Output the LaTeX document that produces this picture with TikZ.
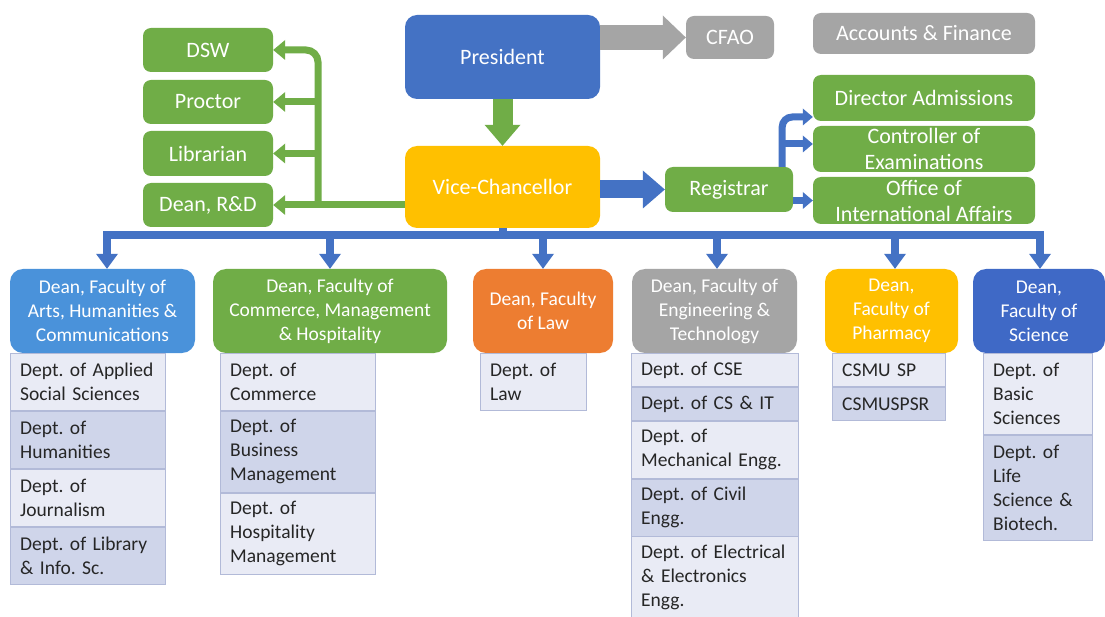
\documentclass[tikz,border=0pt]{standalone}
\usepackage{fontspec}
\setmainfont{Carlito}
\usetikzlibrary{arrows.meta,positioning}
\frenchspacing
\hyphenpenalty=10000
\exhyphenpenalty=10000

\definecolor{cgreen}{HTML}{70AD47}
\definecolor{cblue}{HTML}{4472C4}
\definecolor{cgold}{HTML}{FFC000}
\definecolor{cgrey}{HTML}{A5A5A5}
\definecolor{corange}{HTML}{ED7D31}
\definecolor{csky}{HTML}{4A92DA}
\definecolor{croyal}{HTML}{3F69C6}
\definecolor{rowlight}{HTML}{E9EBF5}
\definecolor{rowdark}{HTML}{CFD5EA}
\definecolor{rowline}{HTML}{B2BAD8}
\definecolor{rowtext}{HTML}{262626}

\tikzset{
  unit/.style={fill=#1, rounded corners=8pt, text=white, align=center, inner sep=0pt,
    font=\fontsize{22}{26}\selectfont},
  dean/.style={fill=#1, rounded corners=13pt, text=white, align=center, inner sep=0pt,
    minimum height=84pt, font=\fontsize{19.5}{24}\selectfont},
  dept/.style={fill=#1, draw=rowline, line width=0.8pt, align=left, inner xsep=10pt,
    inner ysep=0pt, text=rowtext, font=\fontsize{19.5}{24}\selectfont},
  nrows/.style={minimum height={24*#1+9}},
  gline/.style={draw=cgreen, line width=7pt, -{Triangle[length=12pt,width=20pt,line width=0pt]}},
  rline/.style={draw=cblue, line width=7pt, -{Triangle[length=10pt,width=17pt,line width=0pt]}},
  busline/.style={draw=cblue, line width=8pt, line cap=rect},
  facarrow/.style={draw=cblue, line width=8pt, -{Triangle[length=15pt,width=22pt,line width=0pt]}}
}

\begin{document}
\begin{tikzpicture}[x=1pt,y=-1pt]
    \path[fill=white,use as bounding box] (0,0) rectangle (1105,617);

    % top level
    \node[unit=cblue, rounded corners=12pt, minimum width=195pt, minimum height=84pt] (president) at (502.5,57) {President};
    \node[unit=cgold, rounded corners=12pt, minimum width=195pt, minimum height=82pt] (vc) at (502.5,187) {Vice-Chancellor};
    \node[unit=cgrey, minimum width=88pt, minimum height=43pt] (cfao) at (730,37.5) {CFAO};
    \node[unit=cgrey, minimum width=222pt, minimum height=41pt] (accounts) at (924,33.5) {Accounts \& Finance};
    \node[unit=cgreen, minimum width=128pt, minimum height=45pt] (registrar) at (729,189.5) {Registrar};

    \node[unit=cgreen, minimum width=222pt, minimum height=46pt] (diradm) at (924,98) {Director Admissions};
    \node[unit=cgreen, minimum width=222pt, minimum height=46pt] (controller) at (924,149) {Controller of\\Examinations};
    \node[unit=cgreen, minimum width=222pt, minimum height=47pt] (office) at (924,200.5) {Office of\\International Affairs};

    \node[unit=cgreen, minimum width=130pt, minimum height=44pt] (dsw) at (208,50) {DSW};
    \node[unit=cgreen, minimum width=130pt, minimum height=44pt] (proctor) at (208,102) {Proctor};
    \node[unit=cgreen, minimum width=130pt, minimum height=45pt] (librarian) at (208,153.5) {Librarian};
    \node[unit=cgreen, minimum width=130pt, minimum height=44pt] (dean) at (208,205) {Dean, R\&D};

    % big arrows
    \draw[draw=cgrey, line width=25pt, -{Triangle[length=23pt,width=44pt,line width=0pt]}] (president.east |- cfao.west) -- (cfao.west);
    \draw[draw=cgreen, line width=20pt, -{Triangle[length=21pt,width=36pt,line width=0pt]}] (president.south) -- (vc.north);
    \draw[draw=cblue, line width=18pt, -{Triangle[length=22pt,width=38pt,line width=0pt]}] (vc.east |- registrar.west) -- (registrar.west);

    % vc to the left offices
    \coordinate (gspine) at (318,205);
    \draw[gline] (vc.west |- dean.east) -- (dean.east);
    \draw[gline, rounded corners=12pt] (gspine) |- (dsw.east);
    \draw[gline] (gspine |- proctor.east) -- (proctor.east);
    \draw[gline] (gspine |- librarian.east) -- (librarian.east);

    % registrar to its offices
    \coordinate (rspine) at ([xshift=-11pt]registrar.north east);
    \coordinate (admin) at ([yshift=-19pt]diradm.west);
    \coordinate (ctrlin) at ([yshift=5pt]controller.west);
    \draw[rline, rounded corners=10pt] (rspine) |- (admin);
    \draw[rline] (rspine |- ctrlin) -- (ctrlin);
    \draw[rline] (registrar.east |- office.west) -- (office.west);

    % faculties
    \node[dean=csky, minimum width=185pt] (arts) at (102.5,311) {Dean, Faculty of\\Arts, Humanities \&\\Communications};
    \node[dean=cgreen, minimum width=234pt] (commerce) at (330,311) {Dean, Faculty of\\Commerce, Management\\\& Hospitality};
    \node[dean=corange, minimum width=140pt] (law) at (543,311) {Dean, Faculty\\of Law};
    \node[dean=cgrey, minimum width=165pt] (eng) at (714.5,311) {Dean, Faculty of\\Engineering \&\\Technology};
    \node[dean=cgold, minimum width=133pt] (pharm) at (891.5,311) {Dean,\\Faculty of\\Pharmacy};
    \node[dean=croyal, minimum width=132pt] (science) at (1039,311) {Dean,\\Faculty of\\Science};

    \coordinate (bus) at (0,235);
    \foreach \f/\dx in {arts/4.5,commerce/0,law/0,eng/2.5,pharm/3.5,science/1}{%
        \coordinate (\f-top) at ([xshift=\dx pt]\f.north);
        \draw[facarrow] (\f-top |- bus) -- (\f-top);}
    \draw[busline] (arts-top |- bus) -- (science-top |- bus);
    \draw[busline, line cap=butt] (vc.south) -- (vc.south |- bus);

    % departments
    \begin{scope}[every node/.append style={text width=135pt}]
    \node[dept=rowlight, nrows=2, anchor=north west] (a1) at (arts.south west) {Dept. of Applied\\Social Sciences};
    \node[dept=rowdark, nrows=2, below=0pt of a1] (a2) {Dept. of\\Humanities};
    \node[dept=rowlight, nrows=2, below=0pt of a2] (a3) {Dept. of\\Journalism};
    \node[dept=rowdark, nrows=2, below=0pt of a3] (a4) {Dept. of Library\\\& Info. Sc.};
    \end{scope}

    \begin{scope}[every node/.append style={text width=135pt}]
    \node[dept=rowlight, nrows=2, anchor=north west] (c1) at ([xshift=7pt]commerce.south west) {Dept. of\\Commerce};
    \node[dept=rowdark, nrows=3, below=0pt of c1] (c2) {Dept. of\\Business\\Management};
    \node[dept=rowlight, nrows=3, below=0pt of c2] (c3) {Dept. of\\Hospitality\\Management};
    \end{scope}

    \node[dept=rowlight, nrows=2, text width=86pt, anchor=north west] (l1) at ([xshift=7pt]law.south west) {Dept. of\\Law};

    \begin{scope}[every node/.append style={text width=147pt}]
    \node[dept=rowlight, nrows=1, anchor=north west] (e1) at ([xshift=-1pt]eng.south west) {Dept. of CSE};
    \node[dept=rowdark, nrows=1, below=0pt of e1] (e2) {Dept. of CS \& IT};
    \node[dept=rowlight, nrows=2, below=0pt of e2] (e3) {Dept. of\\Mechanical Engg.};
    \node[dept=rowdark, nrows=2, below=0pt of e3] (e4) {Dept. of Civil\\Engg.};
    \node[dept=rowlight, nrows=3, below=0pt of e4] (e5) {Dept. of Electrical\\\& Electronics\\Engg.};
    \end{scope}

    \begin{scope}[every node/.append style={text width=93pt}]
    \node[dept=rowlight, nrows=1, anchor=north west] (p1) at ([xshift=7pt]pharm.south west) {CSMU SP};
    \node[dept=rowdark, nrows=1, below=0pt of p1] (p2) {CSMUSPSR};
    \end{scope}

    \begin{scope}[every node/.append style={text width=89pt}]
    \node[dept=rowlight, nrows=3, anchor=north west] (s1) at ([xshift=10pt]science.south west) {Dept. of\\Basic\\Sciences};
    \node[dept=rowdark, nrows=4, below=0pt of s1] (s2) {Dept. of\\Life\\Science \&\\Biotech.};
    \end{scope}
\end{tikzpicture}
\end{document}
